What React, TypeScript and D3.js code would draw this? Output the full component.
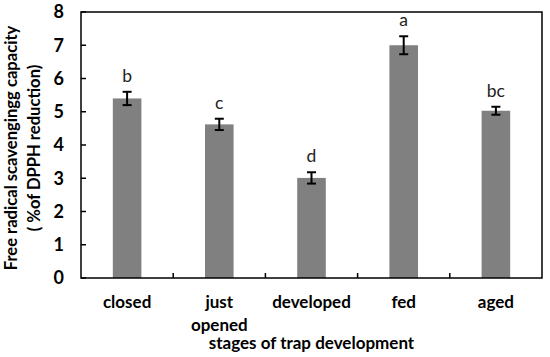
import React from "react";
import * as d3 from "d3";

const stages = ["closed", "just opened", "developed", "fed", "aged"];
const stageLines = [["closed"], ["just", "opened"], ["developed"], ["fed"], ["aged"]];
const means = [5.4, 4.62, 3.01, 7.0, 5.03];
const errors = [0.2, 0.17, 0.17, 0.27, 0.12];
const letters = ["b", "c", "d", "a", "bc"];
const yTicks = [0, 1, 2, 3, 4, 5, 6, 7, 8];

const W = 550;
const H = 357;
const margin = { top: 12, right: 8, bottom: 79, left: 81 };
const font = "Lato, 'Open Sans', sans-serif";

export default function App() {
  const innerW = W - margin.left - margin.right;
  const innerH = H - margin.top - margin.bottom;

  const x = d3.scaleBand().domain(stages).range([0, innerW]).paddingInner(0.69).paddingOuter(0.345);
  const band = d3.scaleBand().domain(stages).range([0, innerW]);
  const y = d3.scaleLinear().domain([0, 8]).range([innerH, 0]);

  const cap = 4.5;

  return (
    <svg width={W} height={H} style={{ position: "absolute", left: 0, top: 0, background: "#fff" }} fontFamily={font}>
      <g transform={`translate(${margin.left},${margin.top})`}>
        {stages.map((s, i) => {
          const cx = x(s)! + x.bandwidth() / 2;
          const hi = y(means[i] + errors[i]);
          const lo = y(means[i] - errors[i]);
          return (
            <g key={s}>
              <rect x={x(s)} y={y(means[i])} width={x.bandwidth()} height={innerH - y(means[i])} fill="#808080" />
              <line x1={cx} x2={cx} y1={hi} y2={lo} stroke="#000" strokeWidth={2} />
              <line x1={cx - cap} x2={cx + cap} y1={hi} y2={hi} stroke="#000" strokeWidth={2} />
              <line x1={cx - cap} x2={cx + cap} y1={lo} y2={lo} stroke="#000" strokeWidth={2} />
              <text x={cx} y={hi - 10} textAnchor="middle" fontSize={17.5} fill="#222">{letters[i]}</text>
              {stageLines[i].map((t, j) => (
                <text key={t} x={band(s)! + band.bandwidth() / 2} y={innerH + 30 + j * 23} textAnchor="middle" fontSize={17} fontWeight="bold" fill="#000">{t}</text>
              ))}
            </g>
          );
        })}
        {/* inward category separator ticks */}
        {stages.slice(1).map((s) => (
          <line key={"t" + s} x1={band(s)} x2={band(s)} y1={innerH} y2={innerH - 5} stroke="#000" strokeWidth={1.5} />
        ))}
        {yTicks.map((t) => (
          <g key={"y" + t}>
            <line x1={0} x2={5} y1={y(t)} y2={y(t)} stroke="#000" strokeWidth={1.5} />
            <text x={-17} y={y(t)} dy="0.36em" textAnchor="end" fontSize={18} fontWeight="bold" fill="#000">{t}</text>
          </g>
        ))}
        <rect x={0} y={0} width={innerW} height={innerH} fill="none" stroke="#000" strokeWidth={1.5} />
        <text x={innerW / 2} y={innerH + 71} textAnchor="middle" fontSize={17} fontWeight="bold" fill="#000">stages of trap development</text>
      </g>
      <g transform={`translate(17,148) rotate(-90)`}>
        <text x={0} y={0} textAnchor="middle" fontSize={16.6} fontWeight="bold" fill="#000">Free radical scavengingg capacity</text>
        <text x={0} y={23} textAnchor="middle" fontSize={16.6} fontWeight="bold" fill="#000">( %of DPPH reduction)</text>
      </g>
    </svg>
  );
}
